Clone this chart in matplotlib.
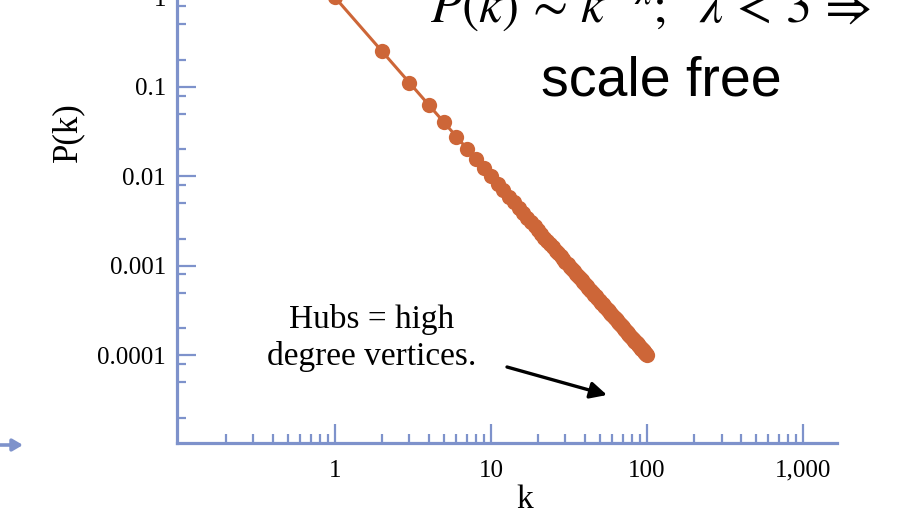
import matplotlib
matplotlib.use("Agg")
import matplotlib.pyplot as plt
from matplotlib.ticker import FixedLocator, NullFormatter

# ---------------- data ----------------
degrees = list(range(1, 101))
prob = [1.0, 0.25, 0.1111, 0.0625, 0.04, 0.02778, 0.02041, 0.01563, 0.01235, 0.01,
        0.008264, 0.006944, 0.005917, 0.005102, 0.004444, 0.003906, 0.00346, 0.003086, 0.00277, 0.0025,
        0.002268, 0.002066, 0.00189, 0.001736, 0.0016, 0.001479, 0.001372, 0.001276, 0.001189, 0.001111,
        0.001041, 0.0009766, 0.0009183, 0.000865, 0.0008163, 0.0007716, 0.0007305, 0.0006925, 0.0006575, 0.000625,
        0.0005949, 0.0005669, 0.0005408, 0.0005165, 0.0004938, 0.0004726, 0.0004527, 0.000434, 0.0004165, 0.0004,
        0.0003845, 0.0003698, 0.000356, 0.0003429, 0.0003306, 0.0003189, 0.0003078, 0.0002973, 0.0002873, 0.0002778,
        0.0002687, 0.0002601, 0.000252, 0.0002441, 0.0002367, 0.0002296, 0.0002228, 0.0002163, 0.00021, 0.0002041,
        0.0001984, 0.0001929, 0.0001877, 0.0001826, 0.0001778, 0.0001731, 0.0001687, 0.0001644, 0.0001602, 0.0001563,
        0.0001524, 0.0001487, 0.0001452, 0.0001417, 0.0001384, 0.0001352, 0.0001321, 0.0001291, 0.0001262, 0.0001235,
        0.0001208, 0.0001181, 0.0001156, 0.0001132, 0.0001108, 0.0001085, 0.0001063, 0.0001041, 0.000102, 0.0001]

x_major = [1, 10, 100, 1000]
x_major_labels = ["1", "10", "100", "1,000"]
y_major = [0.0001, 0.001, 0.01, 0.1, 1]
y_major_labels = ["0.0001", "0.001", "0.01", "0.1", "1"]

# ---------------- style ----------------
W, H = 921, 515
axis_col = "#7e92cb"
pt_col = "#cd6638"
serif = ["Liberation Serif", "DejaVu Serif"]
plt.rcParams["mathtext.fontset"] = "stix"

fig = plt.figure(figsize=(W / 100, H / 100), dpi=100)
fig.patch.set_facecolor("white")

left_px, right_px, bottom_px, top_px = 177, 837, 443, -30
ax = fig.add_axes([left_px / W, 1 - bottom_px / H,
                   (right_px - left_px) / W, (bottom_px - top_px) / H])

ax.plot(degrees, prob, "-", color=pt_col, lw=2.2, marker="o", ms=11,
        markeredgewidth=0, clip_on=False, zorder=3)

ax.set_xscale("log")
ax.set_yscale("log")
ax.set_xlim(0.097, 1650)
ax.set_ylim(1.04e-5, 2.03)

for s in ["top", "right"]:
    ax.spines[s].set_visible(False)
for s in ["left", "bottom"]:
    ax.spines[s].set_color(axis_col)
    ax.spines[s].set_linewidth(2.3)

ax.xaxis.set_major_locator(FixedLocator(x_major))
ax.set_xticklabels(x_major_labels)
xminor = [m * d for d in [0.1, 1, 10, 100] for m in range(2, 10)]
ax.xaxis.set_minor_locator(FixedLocator(xminor))
ax.xaxis.set_minor_formatter(NullFormatter())

ax.yaxis.set_major_locator(FixedLocator(y_major))
ax.set_yticklabels(y_major_labels)
yminor = [m * d for d in [1e-5, 1e-4, 1e-3, 1e-2, 1e-1, 1] for m in (2, 5, 8)]
ax.yaxis.set_minor_locator(FixedLocator(yminor))
ax.yaxis.set_minor_formatter(NullFormatter())

ax.tick_params(which="both", direction="in", color=axis_col, width=1.6)
ax.tick_params(which="major", length=14)
ax.tick_params(which="minor", length=6.5)
ax.tick_params(axis="y", which="major", pad=8)
ax.tick_params(axis="x", which="major", pad=12)
for lab in ax.get_xticklabels() + ax.get_yticklabels():
    lab.set_fontfamily(serif)
    lab.set_fontsize(18)

# ---------------- annotations ----------------
def fx(px):
    return px / W

def fy(py):
    return 1 - py / H

fig.text(fx(525), fy(508), "k", ha="center", va="baseline",
         fontfamily=serif, fontsize=24)
fig.text(fx(68), fy(132), "P(k)", ha="center", va="center", rotation=90,
         fontfamily=serif, fontsize=25)

fig.text(fx(372), fy(328), "Hubs = high", ha="center", va="baseline",
         fontfamily=serif, fontsize=24)
fig.text(fx(372), fy(365), "degree vertices.", ha="center", va="baseline",
         fontfamily=serif, fontsize=24)

ax.annotate("", xy=(607, H - 395), xycoords="figure pixels",
            xytext=(507, H - 367), textcoords="figure pixels",
            arrowprops=dict(arrowstyle="-|>,head_length=1.0,head_width=0.5",
                            color="black", lw=2.4, shrinkA=0, shrinkB=0))

fig.text(fx(430), fy(22), r"$P(k)\,\sim\,k^{-\lambda};\ \ \lambda\,<\,3\,\Rightarrow$",
         ha="left", va="baseline", fontsize=37)
fig.text(fx(661), fy(95), "scale free", ha="center", va="baseline",
         fontfamily=["Liberation Sans", "DejaVu Sans"], fontsize=40)

# slide arrow at left edge
ax.annotate("", xy=(23, H - 445), xycoords="figure pixels",
            xytext=(-5, H - 445), textcoords="figure pixels",
            arrowprops=dict(arrowstyle="-|>,head_length=0.6,head_width=0.35",
                            color=axis_col, lw=2.6, shrinkA=0, shrinkB=0))

fig.savefig("out.png", dpi=100, facecolor="white")
